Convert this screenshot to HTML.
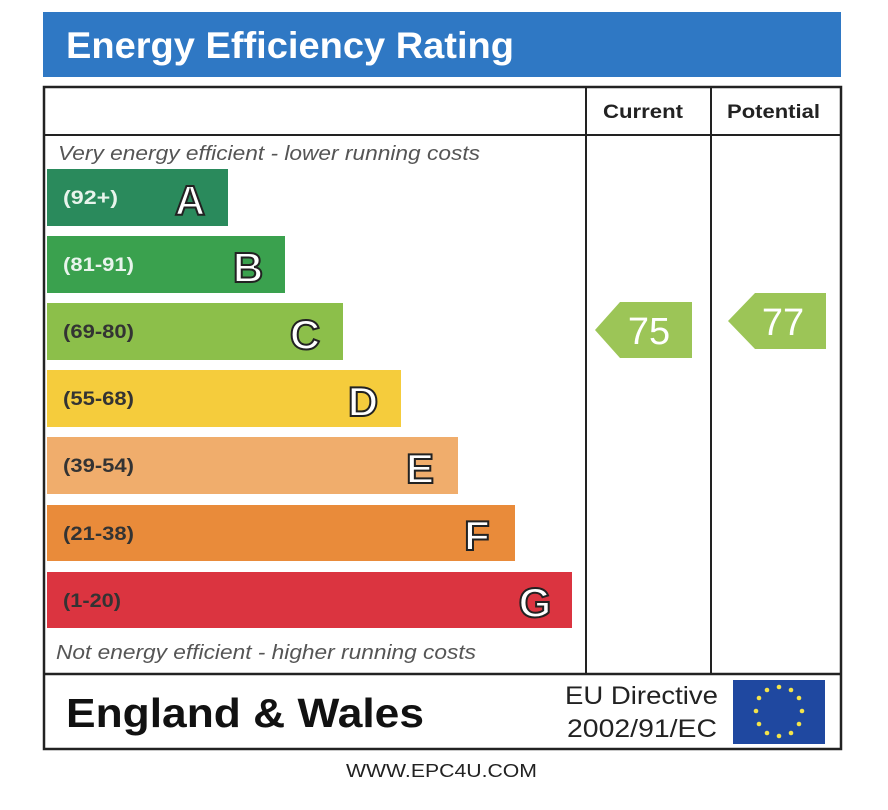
<!DOCTYPE html>
<html><head><meta charset="utf-8"><style>
html,body{margin:0;padding:0;background:#fff;width:888px;height:810px;overflow:hidden}
</style></head><body>
<svg width="888" height="810" viewBox="0 0 888 810" xmlns="http://www.w3.org/2000/svg" font-family="Liberation Sans, sans-serif">
<rect x="43" y="12" width="798" height="65" fill="#2f78c4"/>
<text x="66" y="58" font-size="37" font-weight="bold" fill="#fff" textLength="448" lengthAdjust="spacingAndGlyphs">Energy Efficiency Rating</text>
<rect x="44" y="87" width="797" height="662" fill="none" stroke="#222" stroke-width="2.5"/>
<line x1="44" y1="135" x2="841" y2="135" stroke="#222" stroke-width="2"/>
<line x1="44" y1="674" x2="841" y2="674" stroke="#222" stroke-width="2.5"/>
<line x1="586" y1="87" x2="586" y2="674" stroke="#222" stroke-width="2"/>
<line x1="711" y1="87" x2="711" y2="674" stroke="#222" stroke-width="2"/>
<text x="603" y="118" font-size="19" font-weight="bold" fill="#222" textLength="80" lengthAdjust="spacingAndGlyphs">Current</text>
<text x="727" y="118" font-size="19" font-weight="bold" fill="#222" textLength="93" lengthAdjust="spacingAndGlyphs">Potential</text>
<text x="58" y="160" font-size="20" font-style="italic" fill="#555" textLength="422" lengthAdjust="spacingAndGlyphs">Very energy efficient - lower running costs</text>
<text x="56" y="659" font-size="20" font-style="italic" fill="#555" textLength="420" lengthAdjust="spacingAndGlyphs">Not energy efficient - higher running costs</text>
<g font-size="19" font-weight="bold" fill="#e8f4ec">
<rect x="47" y="169" width="181" height="57" fill="#2a8a5c"/><text x="63" y="204" textLength="55" lengthAdjust="spacingAndGlyphs">(92+)</text>
<rect x="47" y="236" width="238" height="57" fill="#3aa14e"/><text x="63" y="271" textLength="71" lengthAdjust="spacingAndGlyphs">(81-91)</text>
<rect x="47" y="303" width="296" height="57" fill="#8cbf4a"/><text x="63" y="338" fill="#333" textLength="71" lengthAdjust="spacingAndGlyphs">(69-80)</text>
<rect x="47" y="370" width="354" height="57" fill="#f5cc3c"/><text x="63" y="405" fill="#333" textLength="71" lengthAdjust="spacingAndGlyphs">(55-68)</text>
<rect x="47" y="437" width="411" height="57" fill="#f0ad6c"/><text x="63" y="472" fill="#333" textLength="71" lengthAdjust="spacingAndGlyphs">(39-54)</text>
<rect x="47" y="505" width="468" height="56" fill="#e98b3a"/><text x="63" y="540" fill="#333" textLength="71" lengthAdjust="spacingAndGlyphs">(21-38)</text>
<rect x="47" y="572" width="525" height="56" fill="#db3440"/><text x="63" y="607" fill="#333" textLength="58" lengthAdjust="spacingAndGlyphs">(1-20)</text>
</g>
<g font-size="42" font-weight="bold" fill="#fff" stroke="#222" stroke-width="2" text-anchor="middle">
<text x="190" y="215">A</text>
<text x="248" y="282">B</text>
<text x="305" y="349">C</text>
<text x="363" y="416">D</text>
<text x="420" y="483">E</text>
<text x="477" y="550">F</text>
<text x="535" y="617">G</text>
</g>
<polygon points="595,330 620,302 692,302 692,358 620,358" fill="#9cc557"/>
<text x="649" y="344" font-size="38" fill="#fff" text-anchor="middle">75</text>
<polygon points="728,321 755,293 826,293 826,349 755,349" fill="#9cc557"/>
<text x="783" y="335" font-size="38" fill="#fff" text-anchor="middle">77</text>
<text x="66" y="727" font-size="41" font-weight="bold" fill="#111" textLength="358" lengthAdjust="spacingAndGlyphs">England &amp; Wales</text>
<text x="565" y="704" font-size="25" fill="#222" textLength="153" lengthAdjust="spacingAndGlyphs">EU Directive</text>
<text x="567" y="737" font-size="25" fill="#222" textLength="150" lengthAdjust="spacingAndGlyphs">2002/91/EC</text>
<rect x="733" y="680" width="92" height="64" fill="#1f48a0"/>
<g fill="#f3e34a">
<circle cx="779" cy="687" r="2.3"/><circle cx="791" cy="690" r="2.3"/><circle cx="799" cy="698" r="2.3"/><circle cx="802" cy="711" r="2.3"/><circle cx="799" cy="724" r="2.3"/><circle cx="791" cy="733" r="2.3"/><circle cx="779" cy="736" r="2.3"/><circle cx="767" cy="733" r="2.3"/><circle cx="759" cy="724" r="2.3"/><circle cx="756" cy="711" r="2.3"/><circle cx="759" cy="698" r="2.3"/><circle cx="767" cy="690" r="2.3"/>
</g>
<text x="346" y="777" font-size="18" fill="#222" textLength="191" lengthAdjust="spacingAndGlyphs">WWW.EPC4U.COM</text>
</svg>
</body></html>
